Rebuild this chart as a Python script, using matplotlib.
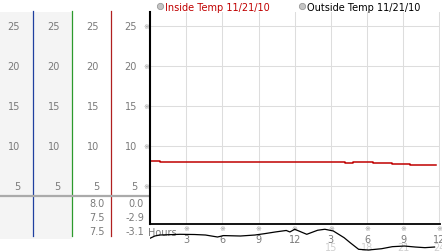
"""Inside / outside temperature day chart."""

import matplotlib

matplotlib.use("Agg")
from matplotlib import pyplot as plt
from matplotlib.transforms import blended_transform_factory

W, H = 442, 253

# inside temperature (deg), stepped readings over the day
inside_hours = [0, 0.8, 16.2, 16.8, 18.5, 20.1, 21.6, 23.7]
inside_temp = [8.1, 8.0, 7.85, 8.0, 7.8, 7.7, 7.55, 7.55]

# outside temperature (deg)
outside_hours = [0, 0.4, 0.8, 2.5, 3.7, 4.6, 5.1, 5.6, 6.1, 7.5, 8.7, 9.5, 10.4, 11.0,
                 11.3, 11.6, 12.0, 13.0, 13.9, 14.5, 15.2, 16.1, 16.6, 17.3, 18.1,
                 19.2, 20.1, 21.1, 22.0, 22.8, 23.6]
outside_temp = [-1.45, -1.13, -0.99, -0.89, -0.92, -0.99, -1.13, -1.27, -1.07, -1.13,
                -0.99, -0.8, -0.56, -0.42, -0.35, -0.56, -0.18, -0.89, -0.32, -0.18,
                -0.42, -1.37, -2.07, -3.0, -3.1, -2.92, -2.63, -2.54, -2.68, -2.77, -2.68]

y_ticks = [5, 10, 15, 20, 25]
hour_ticks = [3, 6, 9, 12, 15, 18, 21, 24]
hour_labels = ["3", "6", "9", "12", "3", "6", "9", "12"]
hour_labels_24 = ["15", "18", "21", "24"]
stats_inside = ["8.0", "7.5", "7.5"]
stats_outside = ["0.0", "-2.9", "-3.1"]

LABEL = "#7a7a7a"
RED = "#c00000"
FS = 7


def px_rect(x0, y0, x1, y1):
    return [x0 / W, 1 - y1 / H, (x1 - x0) / W, (y1 - y0) / H]


def main() -> None:
    fig = plt.figure(figsize=(W / 100, H / 100), dpi=100)

    # pixel overlay for the side panel and decorations
    pane = fig.add_axes([0, 0, 1, 1], zorder=0)
    pane.set_xlim(0, W)
    pane.set_ylim(H, 0)
    pane.axis("off")

    ax = fig.add_axes(px_rect(150, 13, 440, 225), zorder=2)
    ax.patch.set_alpha(0)
    ax.set_xlim(0, 24.05)
    ax.set_ylim(0.2, 26.7)
    ax.set_xticks(hour_ticks)
    ax.set_yticks(y_ticks)
    ax.tick_params(length=0, labelbottom=False, labelleft=False)
    ax.grid(True, color="#dddddd", linewidth=0.75)
    ax.set_axisbelow(True)
    for side in ("top", "right"):
        ax.spines[side].set_visible(False)
    ax.spines["left"].set_linewidth(1.5)
    ax.spines["bottom"].set_linewidth(1.3)
    ax.plot(inside_hours, inside_temp, color=RED, linewidth=1.1, drawstyle="steps-post")

    strip = fig.add_axes(px_rect(150, 225, 440, 253), zorder=1)
    strip.set_xlim(0, 24.05)
    strip.set_ylim(-3.38, 0.56)
    strip.axis("off")
    strip.plot(outside_hours, outside_temp, color="black", linewidth=0.9)

    # side panel background and column rules
    pane.fill_between([0, 72], 13, 240, color="#f4f4f4", linewidth=0)
    for x, c in ((33.3, "#1f3f9f"), (72.3, "#2c9a2c"), (111, "#b02020")):
        pane.plot([x, x], [12, 237], color=c, linewidth=0.9)
    pane.plot([0, 149], [197, 197], color="#aaaaaa", linewidth=1.6)

    side = blended_transform_factory(pane.transData, ax.transData)
    for v in y_ticks:
        for xr in (20, 60, 99, 137):
            pane.text(xr, v, str(v), transform=side, ha="right", va="center",
                      fontsize=FS, color=LABEL)
        pane.text(146, v, "\u203b", transform=side, ha="center", va="center",
                  fontsize=5, color="#999999")

    for i, (a, b) in enumerate(zip(stats_inside, stats_outside)):
        y = 204 + i * 14
        pane.text(105, y, a, ha="right", va="center", fontsize=FS, color=LABEL)
        pane.text(144, y, b, ha="right", va="center", fontsize=FS, color=LABEL)

    # hour axis below the plot
    bottom = blended_transform_factory(ax.transData, pane.transData)
    pane.text(148, 233, "Hours", ha="left", va="center", fontsize=FS, color=LABEL)
    for h, lab in zip(hour_ticks, hour_labels):
        pane.text(h, 229.5, "\u203b", transform=bottom, ha="center", va="center",
                  fontsize=5, color="#999999")
        pane.text(h, 240, lab, transform=bottom, ha="center", va="center",
                  fontsize=FS, color=LABEL)
    for h, lab in zip(hour_ticks[4:], hour_labels_24):
        pane.text(h, 248, lab, transform=bottom, ha="center", va="center",
                  fontsize=FS, color="#d0d0d0")

    # legend
    for x, label, c in ((160, "Inside Temp 11/21/10", RED),
                        (302, "Outside Temp 11/21/10", "black")):
        pane.plot([x], [7], marker="o", markersize=4.5, color="#c4c4c4",
                  markeredgecolor="#999999", markeredgewidth=0.6)
        pane.text(x + 5, 7.5, label, ha="left", va="center", fontsize=FS, color=c)

    fig.savefig("out.png", dpi=100)
    plt.close(fig)


if __name__ == "__main__":
    main()
